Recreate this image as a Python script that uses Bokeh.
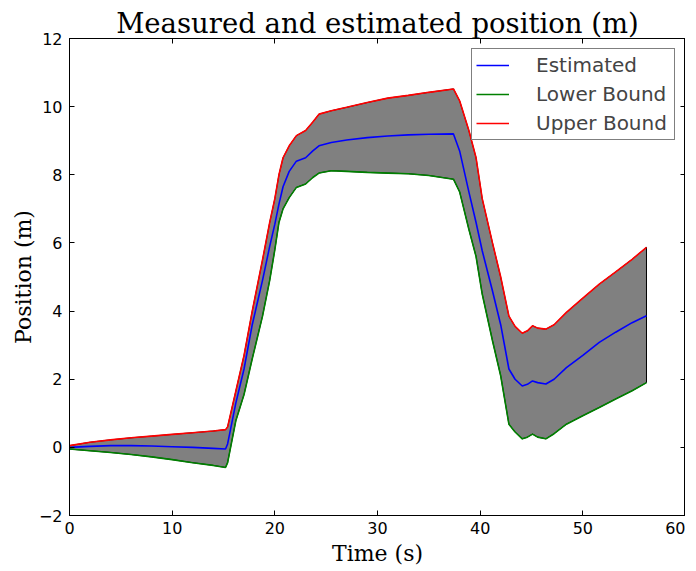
from bokeh.plotting import figure
from bokeh.models import LinearAxis, Range1d, FixedTicker, Legend, LegendItem, CustomJSTickFormatter
from bokeh.embed import file_html
from bokeh.resources import INLINE

# ---- data ----
time_s = [0, 2, 4, 6, 8, 10, 12, 14, 15.2, 15.4, 16.2, 17.0, 17.8, 18.8, 19.5, 20.0, 20.4, 20.8,
          21.4, 22.1, 23.0, 23.7, 24.3, 25.5, 27, 29, 31, 33, 35, 37.4, 38.0, 38.9, 39.6, 40.2,
          41.2, 42.0, 42.8, 43.4, 44.1, 44.6, 45.1, 45.6, 46.4, 47.2, 48.4, 50, 51.6, 53.2, 54.8, 56.2]

estimated = [0.0, 0.03, 0.05, 0.05, 0.04, 0.02, 0.0, -0.03, -0.05, 0.1, 1.3, 2.3, 3.6, 4.9, 5.9, 6.55,
             7.14, 7.65, 8.1, 8.4, 8.5, 8.7, 8.85, 8.95, 9.02, 9.09, 9.14, 9.17, 9.19, 9.2, 8.7, 7.5,
             6.6, 5.77, 4.59, 3.6, 2.3, 2.0, 1.8, 1.85, 1.95, 1.9, 1.86, 2.0, 2.34, 2.7, 3.08, 3.38,
             3.66, 3.86]

lower_bound = [-0.05, -0.1, -0.15, -0.21, -0.28, -0.36, -0.45, -0.53, -0.59, -0.45, 0.78, 1.55, 2.6,
               3.85, 4.9, 5.8, 6.6, 7.0, 7.33, 7.63, 7.73, 7.92, 8.05, 8.12, 8.1, 8.07, 8.05, 8.03,
               7.98, 7.87, 7.5, 6.4, 5.6, 4.5, 3.13, 2.1, 0.68, 0.45, 0.25, 0.3, 0.39, 0.3, 0.25, 0.4,
               0.68, 0.93, 1.17, 1.42, 1.66, 1.9]

upper_bound = [0.05, 0.15, 0.22, 0.28, 0.33, 0.38, 0.43, 0.48, 0.52, 0.6, 1.65, 2.7, 4.0, 5.5, 6.6,
               7.3, 8.0, 8.5, 8.85, 9.15, 9.3, 9.55, 9.78, 9.88, 9.98, 10.12, 10.25, 10.33, 10.42,
               10.52, 10.17, 9.3, 8.5, 7.3, 6.0, 5.0, 3.85, 3.55, 3.35, 3.42, 3.57, 3.5, 3.47, 3.6,
               3.96, 4.38, 4.79, 5.15, 5.52, 5.87]

x_ticks = [0, 10, 20, 30, 40, 50, 60]
y_ticks = [-2, 0, 2, 4, 6, 8, 10, 12]
y_tick_labels = ["\u22122", "0", "2", "4", "6", "8", "10", "12"]

title_text = "Measured and estimated position (m)"
x_label = "Time (s)"
y_label = "Position (m)"
series_names = ["Estimated", "Lower Bound", "Upper Bound"]
series_colors = ["#0000ff", "#008000", "#ff0000"]

# ---- figure ----
p = figure(frame_width=616, frame_height=477, output_backend="svg", toolbar_location=None,
           x_range=Range1d(0, 60), y_range=Range1d(-2, 12),
           min_border_left=0, min_border_right=0, min_border_top=0, min_border_bottom=0,
           background_fill_color="white", border_fill_color="white")
p.margin = (4, 0, 0, 7)

p.title.text = title_text
p.title.text_font = "DejaVu Serif"
p.title.text_font_size = "27.5px"
p.title.text_font_style = "normal"
p.title.align = "center"
p.title.standoff = 0
p.title.text_color = "black"

p.grid.visible = False
p.outline_line_color = "black"
p.outline_line_width = 1

def style_axis(ax, show_labels):
    ax.major_tick_in = 5
    ax.major_tick_out = 0
    ax.minor_tick_in = 0
    ax.minor_tick_out = 0
    ax.axis_line_color = "black"
    ax.major_tick_line_color = "black"
    ax.major_label_text_font = "DejaVu Sans"
    ax.major_label_text_font_size = "16px" if show_labels else "0px"
    ax.major_label_text_color = "black"
    ax.axis_label_text_font = "DejaVu Serif"
    ax.axis_label_text_font_size = "22px"
    ax.axis_label_text_font_style = "normal"
    ax.axis_label_text_color = "black"

xa = p.xaxis[0]
ya = p.yaxis[0]
xa.ticker = FixedTicker(ticks=x_ticks)
ya.ticker = FixedTicker(ticks=y_ticks)
ya.major_label_overrides = {t: s for t, s in zip(y_ticks, y_tick_labels)}
style_axis(xa, True)
style_axis(ya, True)
xa.axis_label = x_label
ya.axis_label = y_label
xa.major_label_standoff = 6
ya.major_label_standoff = 7
xa.axis_label_standoff = 4
ya.axis_label_standoff = 0

blank = CustomJSTickFormatter(code="return ''")
top_ax = LinearAxis(ticker=FixedTicker(ticks=x_ticks), formatter=blank)
right_ax = LinearAxis(ticker=FixedTicker(ticks=y_ticks), formatter=blank)
style_axis(top_ax, False)
style_axis(right_ax, False)
top_ax.major_label_standoff = 0
right_ax.major_label_standoff = 0
p.add_layout(top_ax, "above")
p.add_layout(right_ax, "right")

# band
p.patch(x=time_s + time_s[::-1], y=upper_bound + lower_bound[::-1],
        fill_color="#808080", line_color="black", line_width=1)

r_est = p.line(time_s, estimated, line_color=series_colors[0], line_width=1.6)
r_low = p.line(time_s, lower_bound, line_color=series_colors[1], line_width=1.6)
r_up = p.line(time_s, upper_bound, line_color=series_colors[2], line_width=1.6)

legend = Legend(items=[LegendItem(label=series_names[0], renderers=[r_est]),
                       LegendItem(label=series_names[1], renderers=[r_low]),
                       LegendItem(label=series_names[2], renderers=[r_up])],
                location="top_right", margin=10, padding=4, spacing=5,
                glyph_width=33, glyph_height=20, label_height=20, label_standoff=27,
                label_width=134,
                label_text_font="DejaVu Sans", label_text_font_size="20px",
                border_line_color="black", border_line_width=1,
                background_fill_color="white", background_fill_alpha=1)
p.add_layout(legend, "center")

open("out.html", "w").write(file_html(p, INLINE))
